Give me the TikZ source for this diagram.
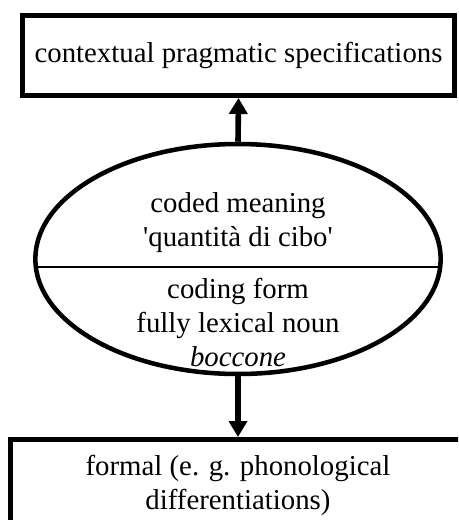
\documentclass[tikz,border=0pt]{standalone}
\usepackage{fontspec}
\setmainfont{Liberation Serif}
\usetikzlibrary{arrows.meta,shapes.geometric}

\tikzset{
  caption/.style={font=\fontsize{21.6}{25.5}\selectfont, align=center, inner sep=0pt},
  frame/.style={draw, line width=3.75pt, inner sep=0pt},
  link/.style={line width=4.2pt, -{Triangle[length=12pt,width=13.5pt]}}
}

\begin{document}
\begin{tikzpicture}[x=0.75pt,y=-0.75pt]
\useasboundingbox (0,0) rectangle (458,520);
\clip (0,0) rectangle (458,520);

% upper box
\node[frame, caption, minimum width=324pt, minimum height=60pt] (context) at (238.5,55.5)
  {contextual pragmatic specifications};

% the lexeme: meaning over form
\node[ellipse, draw, line width=3.4pt, minimum width=304pt, minimum height=172.5pt] (lexeme) at (238,259) {};
\coordinate (divL) at (37,267);
\coordinate (divR) at (439,267);
\draw[line width=1.5pt] (divL) -- (divR);
\node[caption] (meaning) at (238,222.5) {coded meaning\\\textquotesingle quantità di cibo\textquotesingle};
\node[caption] (form) at (238,322) {coding form\\fully lexical noun\\\textit{boccone}};

% lower box, runs off the page
\node[frame, minimum width=341pt, minimum height=90pt] (formal) at (238,499.5) {};
\node[caption] (formaltext) at (238,485) {formal (e. g. phonological\\differentiations)};

\draw[link] (lexeme.north) -- (context.south);
\draw[link] (lexeme.south) -- (formal.north);
\end{tikzpicture}
\end{document}
